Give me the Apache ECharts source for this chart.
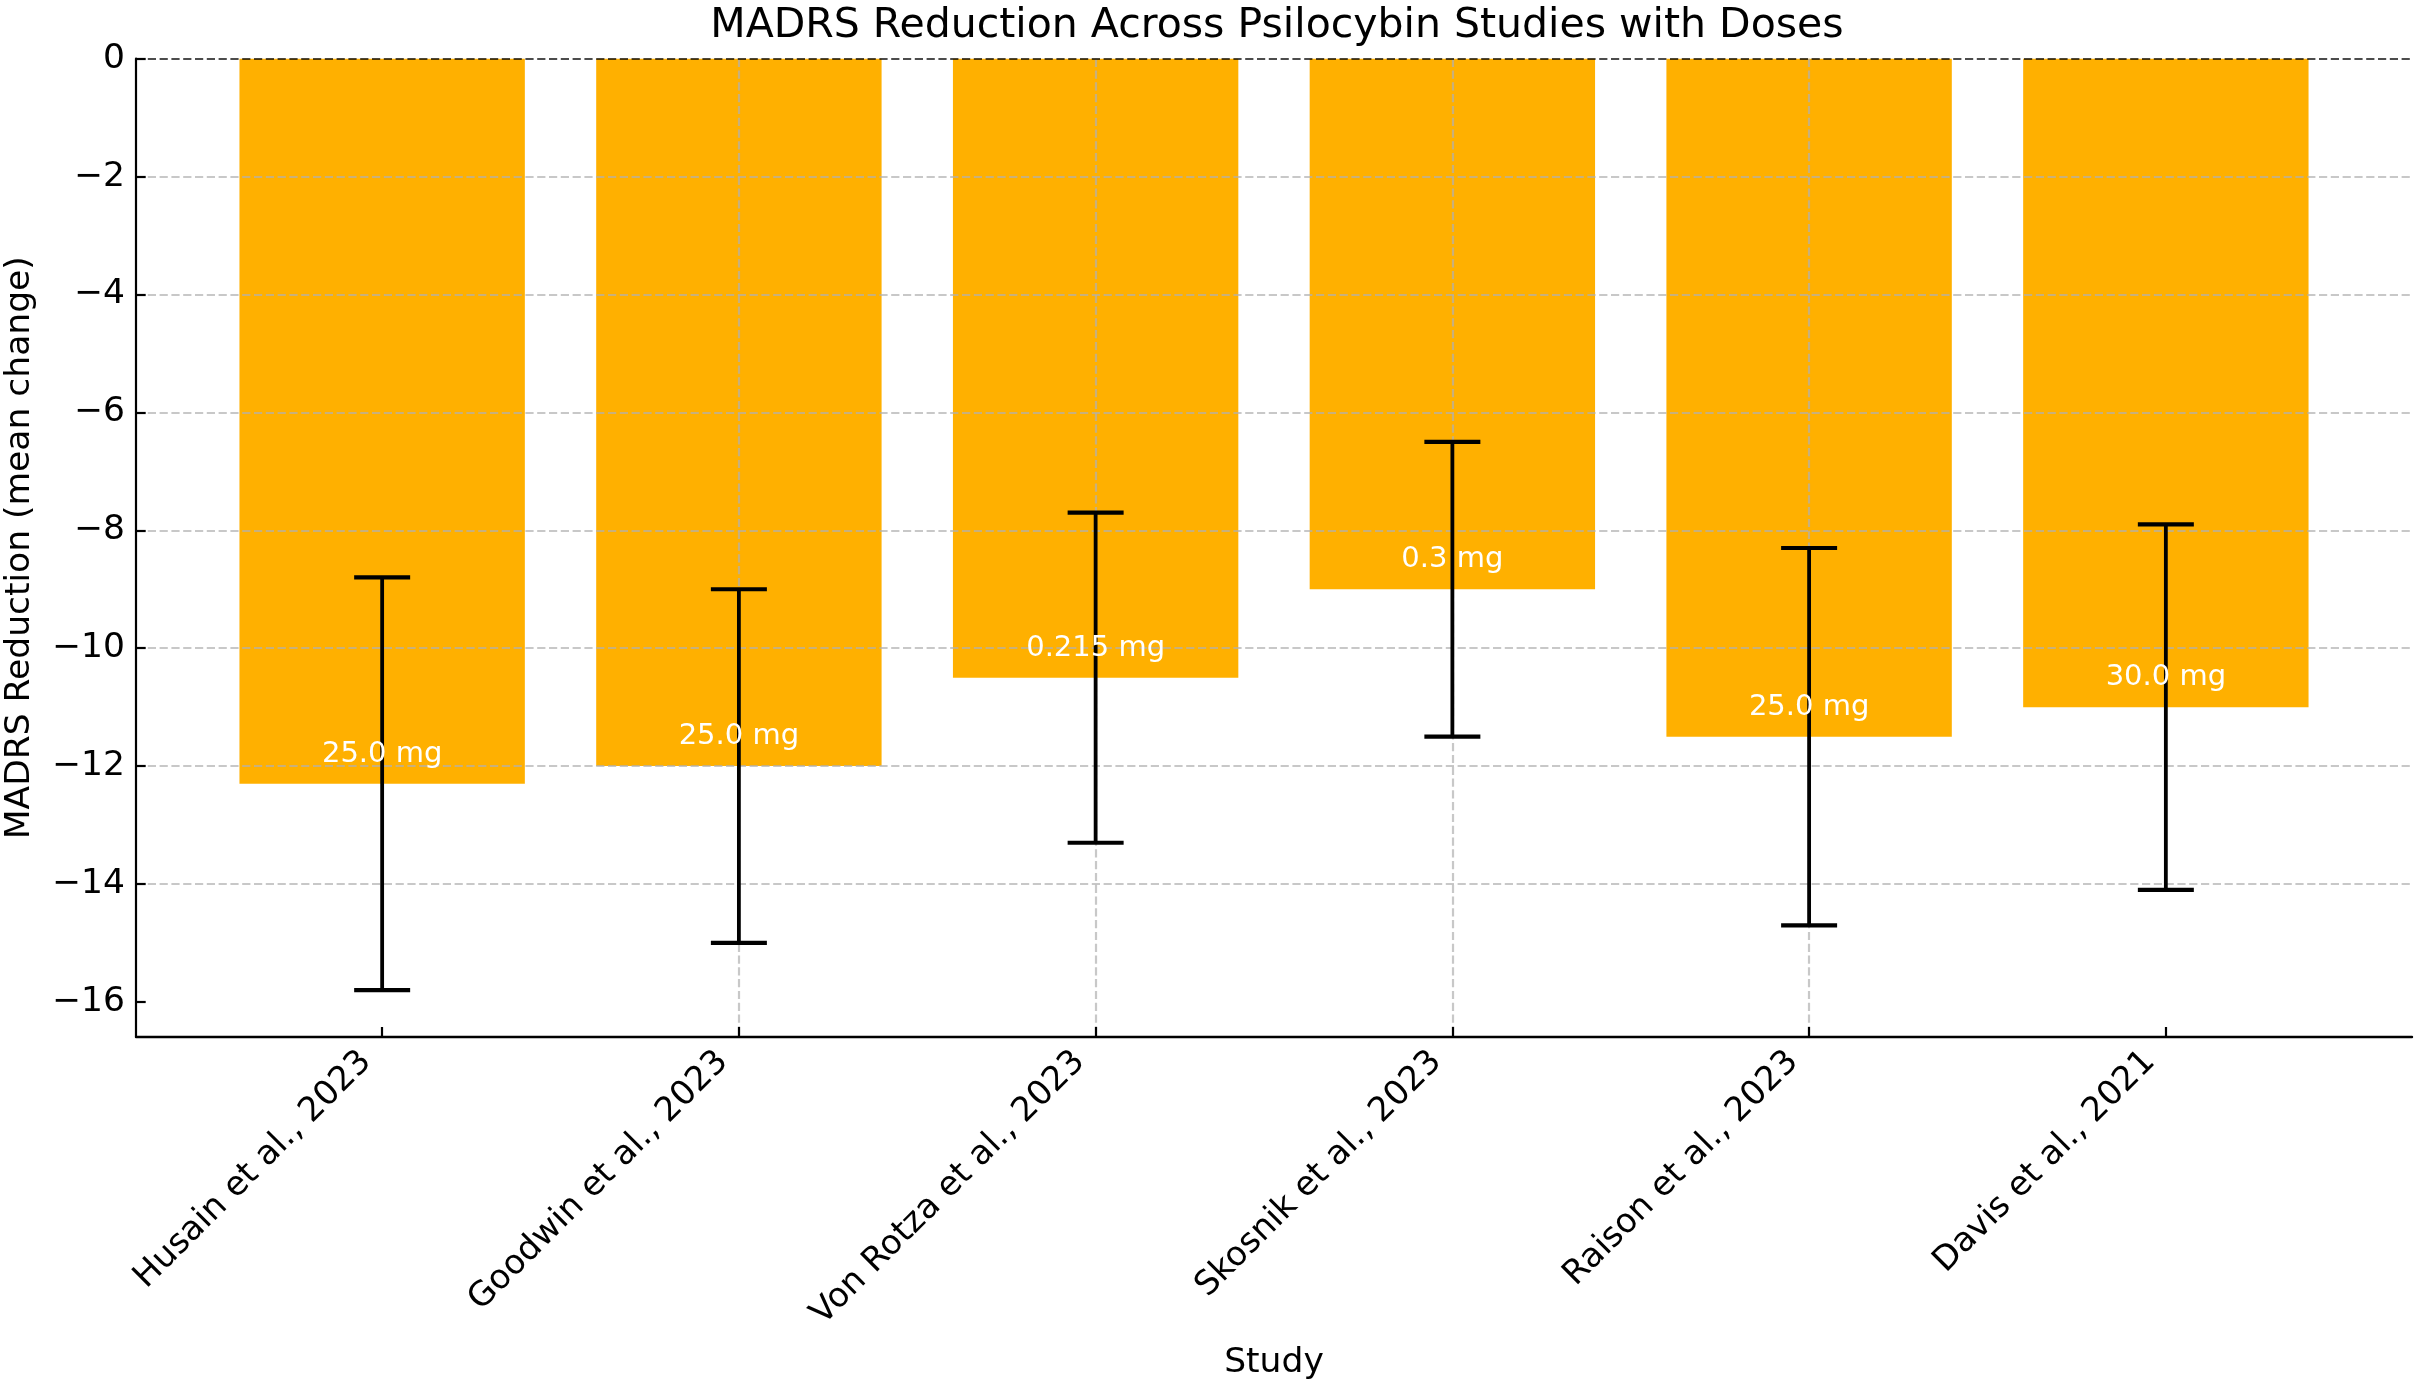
<!DOCTYPE html>
<html><head><meta charset="utf-8">
<script src="https://cdn.jsdelivr.net/npm/echarts@6/dist/echarts.min.js"></script>
<style>html,body{margin:0;padding:0;background:#fff}#c{width:2421px;height:1390px}</style>
</head><body><div id="c"></div>
<script>
const studies = ['Husain et al., 2023','Goodwin et al., 2023','Von Rotza et al., 2023','Skosnik et al., 2023','Raison et al., 2023','Davis et al., 2021'];
const madrsChange = [-12.3, -12.0, -10.5, -9.0, -11.5, -11.0];
const errors = [3.5, 3.0, 2.8, 2.5, 3.2, 3.1];
const dosesMg = [25.0, 25.0, 0.215, 0.3, 25.0, 30.0];
const yTicks = [-16, -14, -12, -10, -8, -6, -4, -2, 0];
const xTicks = [0, 1, 2, 3, 4, 5];

const FONT = 'DejaVu Sans';
const fmtDose = d => (Number.isInteger(d) ? d.toFixed(1) : String(d)) + ' mg';
const gridLine = {show: true, showMinLine: false, showMaxLine: false,
  lineStyle: {color: 'rgba(176,176,176,0.7)', width: 2.2, type: [8.2, 3.6]}};

const chart = echarts.init(document.getElementById('c'), null, {renderer: 'canvas'});
chart.setOption({
  animation: false,
  backgroundColor: '#ffffff',
  title: {
    text: 'MADRS Reduction Across Psilocybin Studies with Doses',
    left: 1277, top: 6, textAlign: 'center', padding: 0,
    textStyle: {fontFamily: FONT, fontSize: 41, fontWeight: 'normal', color: '#000'}
  },
  grid: {left: 136, right: 9, top: 58.7, bottom: 353.3, containLabel: false, outerBoundsMode: 'none'},
  xAxis: {
    type: 'value', min: -0.69, max: 5.69, minInterval: 1, maxInterval: 1, z: 3,
    name: 'Study', nameLocation: 'middle', nameGap: 309,
    nameTextStyle: {fontFamily: FONT, fontSize: 34.5, color: '#000'},
    axisLine: {show: true, onZero: false, lineStyle: {color: '#000', width: 2.4}},
    axisTick: {show: true, inside: true, length: 9.7, customValues: xTicks, lineStyle: {color: '#000', width: 2.2}},
    axisLabel: {show: true, customValues: xTicks, rotate: 45, margin: 4, padding: [0, 22.5, 0, 0],
      fontFamily: FONT, fontSize: 33.8, color: '#000', formatter: v => studies[Math.round(v)] || ''},
    splitLine: gridLine
  },
  yAxis: {
    type: 'value', min: -16.59, max: 0, minInterval: 2, maxInterval: 2, z: 3,
    name: 'MADRS Reduction (mean change)', nameLocation: 'middle', nameGap: 98,
    nameTextStyle: {fontFamily: FONT, fontSize: 34.5, color: '#000'},
    axisLine: {show: true, onZero: false, lineStyle: {color: '#000', width: 2.2}},
    axisTick: {show: true, inside: true, length: 9.7, customValues: yTicks, lineStyle: {color: '#000', width: 2.2}},
    axisLabel: {show: true, customValues: yTicks, margin: 11,
      fontFamily: FONT, fontSize: 34.5, color: '#000', formatter: v => String(v).replace('-', '\u2212')},
    splitLine: gridLine
  },
  series: [
    {
      type: 'custom', name: 'MADRS change', z: 2,
      data: madrsChange.map((v, i) => [i, v]),
      renderItem: (params, api) => {
        const i = api.value(0), v = api.value(1);
        const p0 = api.coord([i - 0.4, 0]);
        const p1 = api.coord([i + 0.4, v]);
        return {type: 'rect', shape: {x: p0[0], y: p0[1], width: p1[0] - p0[0], height: p1[1] - p0[1]},
          style: {fill: '#FFB000'}};
      }
    },
    {
      type: 'custom', name: 'Error', z: 5,
      data: madrsChange.map((v, i) => [i, v - errors[i], v + errors[i]]),
      renderItem: (params, api) => {
        const i = api.value(0);
        const bot = api.coord([i, api.value(1)]);
        const top = api.coord([i, api.value(2)]);
        const cap = 28;
        const st = {stroke: '#000', lineWidth: 3.8};
        const cs = {stroke: '#000', lineWidth: 4.2};
        return {type: 'group', children: [
          {type: 'line', shape: {x1: top[0], y1: top[1], x2: bot[0], y2: bot[1]}, style: st},
          {type: 'line', shape: {x1: top[0] - cap, y1: top[1], x2: top[0] + cap, y2: top[1]}, style: cs},
          {type: 'line', shape: {x1: bot[0] - cap, y1: bot[1], x2: bot[0] + cap, y2: bot[1]}, style: cs}
        ]};
      },
      markLine: {
        silent: true, symbol: 'none', label: {show: false},
        lineStyle: {color: 'rgba(0,0,0,0.7)', width: 2.2, type: [8.2, 3.6]},
        data: [{yAxis: 0}]
      }
    },
    {
      type: 'custom', name: 'Dose', z: 6,
      data: madrsChange.map((v, i) => [i, v, i]),
      renderItem: (params, api) => {
        const i = api.value(0), v = api.value(1);
        const p = api.coord([i, v + 0.5]);
        return {type: 'text', x: p[0], y: p[1],
          style: {text: fmtDose(dosesMg[params.dataIndex]), fill: '#fff', fontFamily: FONT, fontSize: 29,
            align: 'center', verticalAlign: 'middle'}};
      }
    }
  ]
});
</script></body></html>
